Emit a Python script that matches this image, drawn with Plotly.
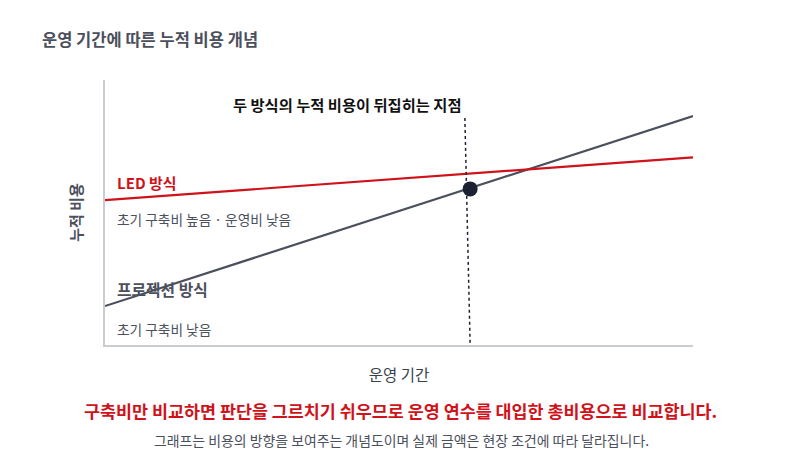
import plotly.graph_objects as go

# conceptual cumulative cost lines (x: operating period, y: cumulative cost)
period = [0, 10]
projection_cost = [14.7, 86.4]
led_cost = [54.7, 70.8]

# marked point and its guide line
flip_x = [6.21]
flip_y = [58.9]
guide_x = [6.12, 6.21]
guide_y = [85.7, 0]

FONT = "Noto Sans CJK KR"
RED = "#d0121b"
GRAY = "#4b505d"
W, H = 792, 465  # page body adds an 8px margin

fig = go.Figure()

fig.add_trace(go.Scatter(x=period, y=projection_cost, mode="lines",
                         line=dict(color=GRAY, width=2.2), hoverinfo="skip"))
fig.add_trace(go.Scatter(x=period, y=led_cost, mode="lines",
                         line=dict(color=RED, width=2.2), hoverinfo="skip"))
fig.add_trace(go.Scatter(x=guide_x, y=guide_y, mode="lines",
                         line=dict(color="#1d2233", width=1.5, dash="dot"), hoverinfo="skip"))
fig.add_trace(go.Scatter(x=flip_x, y=flip_y, mode="markers",
                         marker=dict(color="#1d2233", size=15), hoverinfo="skip"))


def note(text, x, y, size, color, bold=False, xanchor="left", ref="data"):
    if bold:
        text = f"<b>{text}</b>"
    xref, yref = ("x", "y") if ref == "data" else ("paper", "paper")
    fig.add_annotation(text=text, x=x, y=y, xref=xref, yref=yref, showarrow=False,
                       xanchor=xanchor, yanchor="middle",
                       font=dict(family=FONT, size=size, color=color))


note("LED 방식", 0.17, 61.5, 15, RED, bold=True)
note("초기 구축비 높음 · 운영비 낮음", 0.17, 47.6, 13.7, GRAY)
note("프로젝션 방식", 0.17, 21.0, 15.8, GRAY, bold=True)
note("초기 구축비 낮음", 0.17, 6.0, 13.7, GRAY)
note("두 방식의 누적 비용이 뒤집히는 지점", 4.12, 90.9, 15.3, "#111111", bold=True,
     xanchor="center")

# footer messages (below the plot area, paper coords)
note("<b>구축비만 비교하면 판단을 그르치기 쉬우므로 운영 연수를 대입한 총비용으로 비교합니다.</b>",
     0.503, -0.249, 17.4, RED, xanchor="center", ref="paper")
note("그래프는 비용의 방향을 보여주는 개념도이며 실제 금액은 현장 조건에 따라 달라집니다.",
     0.504, -0.358, 13.9, GRAY, xanchor="center", ref="paper")

fig.update_layout(
    width=W, height=H,
    margin=dict(l=97, r=107, t=72, b=128),
    plot_bgcolor="white", paper_bgcolor="white",
    showlegend=False,
    font=dict(family=FONT),
    title=dict(text="<b>운영 기간에 따른 누적 비용 개념</b>", x=34 / W, xanchor="left",
               y=1 - 32 / H, yanchor="middle",
               font=dict(family=FONT, size=16.5, color=GRAY)),
    xaxis=dict(range=[0, 10], showgrid=False, zeroline=False, showticklabels=False,
               ticks="", showline=True, linecolor="#c9cdd3", linewidth=1.5,
               title=dict(text="운영 기간", standoff=24,
                          font=dict(family=FONT, size=15.5, color="#3a3f4b"))),
    yaxis=dict(range=[0, 100], showgrid=False, zeroline=False, showticklabels=False,
               ticks="", showline=True, linecolor="#c9cdd3", linewidth=1.5,
               title=dict(text="<b>누적 비용</b>", standoff=17,
                          font=dict(family=FONT, size=15, color=GRAY))),
)

fig.write_html("out.html")
